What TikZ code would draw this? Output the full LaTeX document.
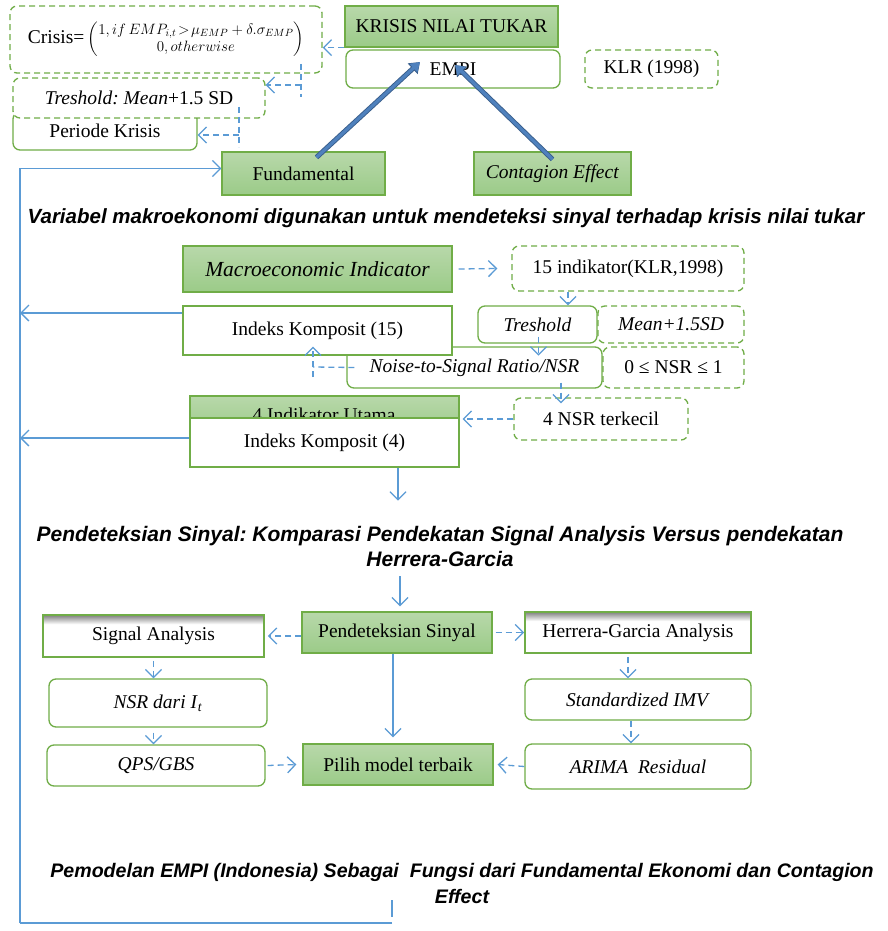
\documentclass[tikz,border=0pt]{standalone}
\usepackage{fix-cm}
\usepackage{amsmath}
\usepackage{fontspec}
\setmainfont{Liberation Serif}
\newfontfamily\headfont{Liberation Sans}
\usetikzlibrary{arrows.meta}
\frenchspacing

\definecolor{boxgreen}{HTML}{70AD47}
\definecolor{greentop}{HTML}{B8D8AA}
\definecolor{greenbot}{HTML}{9BCB88}
\definecolor{lineblue}{HTML}{5B9BD5}
\definecolor{fatblue}{HTML}{4F81BD}
\definecolor{fatedge}{HTML}{385D8A}

\pgfdeclareverticalshading{innershade}{100bp}{color(0bp)=(white); color(64bp)=(white); color(75bp)=(black!50); color(100bp)=(black!50)}

\tikzset{
  every node/.style={font=\fontsize{19.5}{23}\selectfont, inner sep=0pt},
  greenbox/.style={draw=boxgreen, line width=1.3pt, top color=greentop, bottom color=greenbot},
  whitebox/.style={draw=boxgreen, line width=1.3pt, fill=white},
  roundbox/.style={whitebox, rounded corners=7pt},
  dashbox/.style={draw=boxgreen, line width=1.3pt, fill=white, dash pattern=on 6pt off 4pt, rounded corners=7pt},
  shadebox/.style={draw=boxgreen, line width=1.8pt, shading=innershade},
  bline/.style={draw=lineblue, line width=1.3pt},
  dline/.style={bline, dash pattern=on 6pt off 4pt},
  flow/.style={bline, -{Straight Barb[length=8pt,width=16pt]}},
  dflow/.style={dline, -{Straight Barb[length=8pt,width=16pt]}},
  fatflow/.style={draw=fatblue, line width=3.2pt, -{Triangle[length=9pt,width=11pt]},
    preaction={draw=fatedge, line width=5pt, -{Triangle[length=10pt,width=14pt]}}},
  heading/.style={font=\headfont\bfseries\itshape\fontsize{20.5}{25}\selectfont, align=center},
}

\begin{document}
\begin{tikzpicture}[x=1pt,y=-1pt]
\useasboundingbox[fill=white] (0,0) rectangle (888,931);
% krisis nilai tukar
\node[roundbox, minimum width=184pt, minimum height=38pt](periode) at (105,131) {Periode Krisis};
\node[dashbox, minimum width=312pt, minimum height=67pt](crisis) at (166,39.5) {Crisis=\,{\fontsize{15}{17}\selectfont$\begin{pmatrix}1,if\,EMP_{i,t}\!>\!\mu_{EMP}+\delta.\sigma_{EMP}\\ 0,otherwise\end{pmatrix}$}};
\node[dashbox, minimum width=252pt, minimum height=40pt](tresh) at (139,98) {\textit{Treshold: Mean}+1.5 SD};
\node[greenbox, minimum width=213pt, minimum height=41pt](krisis) at (451.5,26.5) {KRISIS NILAI TUKAR};
\node[roundbox, minimum width=214pt, minimum height=38pt](empi) at (453,69) {EMPI};
\node[dashbox, minimum width=133pt, minimum height=38pt](klr) at (651.5,69) {KLR (1998)};
\node[greenbox, minimum width=163pt, minimum height=43pt](fund) at (303.5,173.5) {Fundamental};
\node[greenbox, minimum width=157pt, minimum height=43pt](contag) at (552.5,173.5) {\textit{Contagion Effect}};
\node[heading](head1) at (446,218) {Variabel makroekonomi digunakan untuk mendeteksi sinyal terhadap krisis nilai tukar};
% indikator
\node[greenbox, minimum width=269pt, minimum height=46pt, font=\fontsize{21.5}{25}\selectfont](macro) at (317.5,269) {\textit{Macroeconomic Indicator}};
\node[dashbox, minimum width=232pt, minimum height=45pt](ind15) at (628,268.5) {15 indikator(KLR,1998)};
\node[roundbox, minimum width=255pt, minimum height=41pt](noise) at (474.5,367.5) {\textit{Noise-to-Signal Ratio/NSR}};
\node[whitebox, minimum width=269pt, minimum height=49pt](ik15) at (317.5,330.5) {Indeks Komposit (15)};
\node[roundbox, minimum width=119pt, minimum height=37pt](tres) at (537.5,324.5) {\textit{Treshold}};
\node[dashbox, minimum width=146pt, minimum height=37pt](mean) at (671,324.5) {\textit{Mean+1.5SD}};
\node[dashbox, minimum width=141pt, minimum height=41pt](range) at (673.5,367.5) {0 ≤ NSR ≤ 1};
\node[dashbox, minimum width=174pt, minimum height=42pt](nsr4) at (601,419) {4 NSR terkecil};
\node[greenbox, minimum width=269pt, minimum height=40pt](utama) at (324.5,416) {};
\node[anchor=base](utamatext) at (324,421) {4 Indikator Utama};
\node[whitebox, minimum width=269pt, minimum height=49pt](ik4) at (324.5,442.5) {Indeks Komposit (4)};
\node[heading, font=\headfont\bfseries\itshape\fontsize{21}{25}\selectfont](head2) at (440,546.5) {Pendeteksian Sinyal: Komparasi Pendekatan Signal Analysis Versus pendekatan\\Herrera-Garcia};
% pendeteksian sinyal
\node[greenbox, minimum width=190pt, minimum height=41pt](pend) at (397,632.5) {Pendeteksian Sinyal};
\node[shadebox, minimum width=221pt, minimum height=42pt](sig) at (153.5,636) {Signal Analysis};
\node[shadebox, minimum width=226pt, minimum height=41pt](herr) at (638,632.5) {Herrera-Garcia Analysis};
\node[roundbox, minimum width=218pt, minimum height=48pt](nsr) at (158,703) {\textit{NSR dari I}\textsubscript{\textit{t}}};
\node[roundbox, minimum width=218pt, minimum height=41pt](qps) at (156,765.5) {\textit{QPS/GBS}};
\node[roundbox, minimum width=226pt, minimum height=41pt](stdimv) at (638,699.5) {\textit{Standardized IMV}};
\node[roundbox, minimum width=226pt, minimum height=45pt](arima) at (638,766.5) {\textit{ARIMA~~Residual}};
\node[greenbox, minimum width=190pt, minimum height=41pt](pilih) at (398,764.5) {Pilih model terbaik};
\node[heading, font=\headfont\bfseries\itshape\fontsize{19.6}{26}\selectfont](head3) at (462,883.5) {Pemodelan EMPI (Indonesia) Sebagai~~Fungsi dari Fundamental Ekonomi dan Contagion\\Effect};
%
\coordinate(corner) at (20,923);
\coordinate(stub) at (392,900);
\coordinate(kt) at (301,85);
\coordinate(tp) at (239,135);
\coordinate(nb) at (313,367);
\coordinate(out15) at ([yshift=17.5pt]ik15.west);
\coordinate(out4) at ([yshift=4.5pt]ik4.west);
%
\draw[dflow](krisis.south west) -- (crisis.east |- krisis.south west);
\draw[dline]([yshift=21pt]kt) -- ([yshift=-12pt]kt);
\draw[dflow](kt) -- (tresh.east |- kt);
\draw[dline]([yshift=28pt]tp) -- ([yshift=-12pt]tp);
\draw[dflow](tp) -- (periode.east |- tp);
\draw[fatflow]([xshift=13pt,yshift=-6pt]fund.north) -- ([xshift=-33pt,yshift=7pt]empi.center);
\draw[fatflow]([yshift=-8pt]contag.north) -- ([xshift=2pt,yshift=4pt]empi.center);
\draw[bline](stub) -- ([yshift=-17pt]stub);
\draw[bline](stub |- corner) -- (corner);
\draw[flow](corner) |- ([yshift=5pt]fund.west);
%
\draw[dflow]([xshift=6pt]macro.east) -- ([xshift=-14pt]ind15.west);
\draw[dflow]([xshift=-60pt]ind15.south) -- ([xshift=-60pt]ind15.south |- tres.north);
\draw[dflow]([xshift=1pt,yshift=7pt]tres.south) -- ([xshift=1pt,yshift=-12pt]tres.south);
\draw[dflow]([xshift=86.5pt,yshift=6pt]noise.south) -- ([xshift=-40pt,yshift=-6pt]nsr4.north);
\draw[dflow](nsr4.west) -- ([xshift=3pt]utama.east |- nsr4.west);
\draw[dline]([xshift=8pt]noise.west) -- (nb);
\draw[dflow]([yshift=-10pt]nb) -- ([yshift=9pt]nb |- ik15.south);
\draw[flow](out15) -- (corner |- out15);
\draw[flow](out4) -- (corner |- out4);
\draw[flow]([xshift=73.5pt]ik4.south) -- ([xshift=73.5pt,yshift=-33pt]ik4.south);
\draw[flow]([xshift=3pt,yshift=35pt]pend.north) -- ([xshift=3pt,yshift=5pt]pend.north);
%
\draw[dflow](pend.west |- sig.east) -- ([xshift=3pt]sig.east);
\draw[dflow]([xshift=3pt]pend.east) -- (herr.west |- pend.east);
\draw[flow]([xshift=-4pt]pend.south) -- ([xshift=-5pt,yshift=6pt]pilih.north);
\draw[dflow]([yshift=-3pt]sig.south) -- (sig.south |- nsr.north);
\draw[dflow]([yshift=-5pt]sig.south |- nsr.south) -- (sig.south |- qps.north);
\draw[dflow]([xshift=-10pt,yshift=-3pt]herr.south) -- ([xshift=-10pt]stdimv.north);
\draw[dflow]([xshift=-7pt]stdimv.south) -- ([xshift=-7pt]arima.north);
\draw[dflow]([xshift=2pt]qps.east) -- ([xshift=-6pt]pilih.west);
\draw[dflow](arima.west) -- ([xshift=4pt]pilih.east);
\end{tikzpicture}
\end{document}
